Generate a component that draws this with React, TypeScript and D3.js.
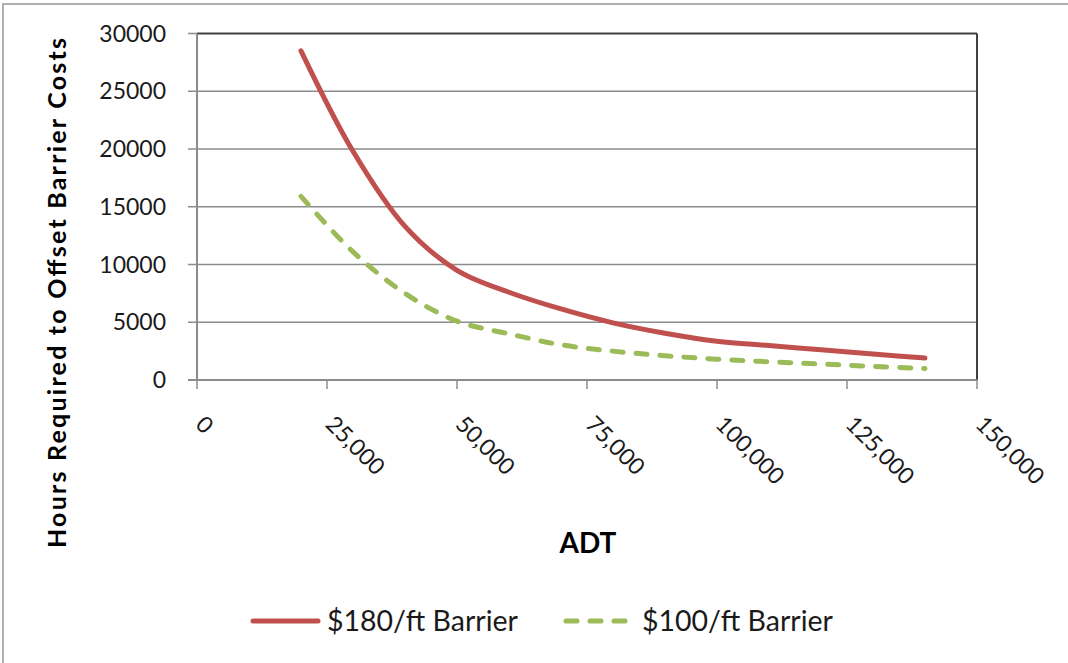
import React from "react";
import * as d3 from "d3";

const adt = [20000, 30000, 40000, 50000, 60000, 70000, 80000, 90000, 100000, 110000, 120000, 130000, 140000];
const barrier180 = [28500, 19800, 13300, 9500, 7600, 6150, 4950, 4050, 3350, 2980, 2620, 2250, 1900];
const barrier100 = [15900, 11100, 7500, 5100, 4000, 3050, 2500, 2100, 1800, 1580, 1380, 1180, 1000];
const xTicks = [0, 25000, 50000, 75000, 100000, 125000, 150000];
const yTicks = [0, 5000, 10000, 15000, 20000, 25000, 30000];
const seriesNames = ["$180/ft Barrier", "$100/ft Barrier"];

const W = 1068, H = 663;
const FONT = "Lato, 'Open Sans', sans-serif";

export default function App() {
  const x = d3.scaleLinear().domain([0, 150000]).range([197, 977]);
  const y = d3.scaleLinear().domain([0, 30000]).range([380, 33.5]);
  const line = d3.line<[number, number]>()
    .x(d => x(d[0]))
    .y(d => y(d[1]))
    .curve(d3.curveCatmullRom.alpha(0.5));
  const red = adt.map((a, i) => [a, barrier180[i]] as [number, number]);
  const green = adt.map((a, i) => [a, barrier100[i]] as [number, number]);
  const fmt = d3.format(",");
  const redC = "#C0504D", greenC = "#9BBB59";

  return (
    <svg width={W} height={H} style={{ position: "absolute", left: 0, top: 0, background: "#fff" }} fontFamily={FONT}>
      <rect x={3} y={4} width={W + 10} height={H + 10} fill="#fff" stroke="#b0b0b0" strokeWidth={2} />
      {yTicks.filter(t => t > 0 && t < 30000).map(t => (
        <line key={t} x1={x(0)} x2={x(150000)} y1={y(t)} y2={y(t)} stroke="#8c8c8c" strokeWidth={1.5} />
      ))}
      <line x1={x(0)} x2={x(150000)} y1={y(30000)} y2={y(30000)} stroke="#404040" strokeWidth={2} />
      <line x1={x(150000)} x2={x(150000)} y1={y(30000)} y2={y(0)} stroke="#404040" strokeWidth={2} />
      <line x1={x(0)} x2={x(0)} y1={y(30000)} y2={y(0)} stroke="#8c8c8c" strokeWidth={2} />
      <line x1={x(0) - 9} x2={x(150000)} y1={y(0)} y2={y(0)} stroke="#8c8c8c" strokeWidth={2} />
      {yTicks.map(t => (
        <g key={t}>
          <line x1={x(0) - 9} x2={x(0)} y1={y(t)} y2={y(t)} stroke="#8c8c8c" strokeWidth={1.5} />
          <text x={166} y={y(t)} dy="0.35em" textAnchor="end" fontSize={23} fill="#1a1a1a">{t}</text>
        </g>
      ))}
      {xTicks.map(t => (
        <g key={t}>
          <line x1={x(t)} x2={x(t)} y1={y(0)} y2={y(0) + 9} stroke="#8c8c8c" strokeWidth={1.5} />
          <text transform={`translate(${x(t) + 3},${y(0) + 40}) rotate(45)`} fontSize={23} fill="#1a1a1a" dy="0.35em">{fmt(t)}</text>
        </g>
      ))}
      <path d={line(red) || ""} fill="none" stroke={redC} strokeWidth={5} strokeLinecap="round" />
      <path d={line(green) || ""} fill="none" stroke={greenC} strokeWidth={5} strokeDasharray="11,13" strokeLinecap="round" />
      <text x={588} y={553} textAnchor="middle" fontSize={28} fontWeight="bold" fill="#000">ADT</text>
      <text transform="translate(66,293) rotate(-90)" textAnchor="middle" fontSize={25} fontWeight="bold" fill="#000" textLength={510} lengthAdjust="spacing">Hours Required to Offset Barrier Costs</text>
      <line x1={253} x2={318} y1={621} y2={621} stroke={redC} strokeWidth={5} strokeLinecap="round" />
      <text x={327} y={621} dy="0.35em" fontSize={28.5} fill="#1a1a1a">{seriesNames[0]}</text>
      <line x1={566} x2={630} y1={621} y2={621} stroke={greenC} strokeWidth={5} strokeDasharray="11,13" strokeLinecap="round" />
      <text x={642} y={621} dy="0.35em" fontSize={28.5} fill="#1a1a1a">{seriesNames[1]}</text>
    </svg>
  );
}
